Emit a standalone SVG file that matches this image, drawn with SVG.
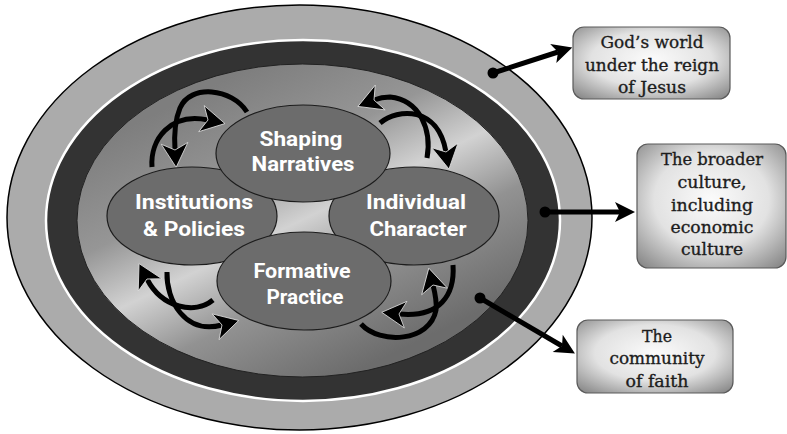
<svg xmlns="http://www.w3.org/2000/svg" width="787" height="434" viewBox="0 0 787 434">
  <defs>
    <linearGradient id="coreFill" gradientUnits="userSpaceOnUse" x1="232" y1="76" x2="372" y2="364">
      <stop offset="0" stop-color="#7e7e7e"/>
      <stop offset="0.3" stop-color="#969696"/>
      <stop offset="0.5" stop-color="#d2d2d2"/>
      <stop offset="0.7" stop-color="#929292"/>
      <stop offset="1" stop-color="#6c6c6c"/>
    </linearGradient>
    <radialGradient id="boxFill" cx="50%" cy="45%" r="70%">
      <stop offset="0" stop-color="#fbfbfb"/>
      <stop offset="0.55" stop-color="#e2e2e2"/>
      <stop offset="1" stop-color="#8a8a8a"/>
    </radialGradient>
    <marker id="bigHead" markerUnits="userSpaceOnUse" markerWidth="40" markerHeight="40" refX="0" refY="0" viewBox="-10 -15 30 30" orient="auto">
      <path d="M13,0 L-5,-10 L0,0 L-5,10 Z" fill="#000" stroke="#e0e0e0" stroke-width="0.6"/>
    </marker>
    <marker id="smallHead" markerUnits="userSpaceOnUse" markerWidth="30" markerHeight="30" refX="0" refY="0" viewBox="-8 -10 24 20" orient="auto">
      <path d="M12,0 L-4,-8 L0,0 L-4,8 Z" fill="#000"/>
    </marker>
    <style>
      .node { fill: #6c6c6c; stroke: #1c1c1c; stroke-width: 1.2; }
      .nlabel { font-family: "Liberation Sans Narrow", "Roboto", "Liberation Sans", sans-serif; font-weight: bold; font-size: 21px; fill: #ffffff; text-anchor: middle; }
      .box { fill: url(#boxFill); stroke: #5a5a5a; stroke-width: 1.2; }
      .blabel { font-family: "DejaVu Serif", "Liberation Serif", serif; font-size: 17px; fill: #1c1c1c; stroke: #1c1c1c; stroke-width: 0.35; text-anchor: middle; }
      .cycle { fill: none; stroke: #000; stroke-width: 5; marker-end: url(#bigHead); }
      .link { fill: none; stroke: #000; stroke-width: 5; marker-end: url(#smallHead); }
    </style>
  </defs>

  <!-- nested rings -->
  <g id="rings">
    <ellipse cx="299.5" cy="217.5" rx="292.5" ry="212.5" fill="#ababab" stroke="#000" stroke-width="1.5"/>
    <ellipse cx="303" cy="220.5" rx="257" ry="180.5" fill="#333333" stroke="#ffffff" stroke-width="2.5"/>
    <ellipse cx="302.5" cy="220.5" rx="225.5" ry="156.5" fill="url(#coreFill)" stroke="#222" stroke-width="1"/>
  </g>

  <!-- feedback arrows between the four elements -->
  <g id="cycle-arrows">
    <path class="cycle" d="M247,112 C232,88 190,84 180,108 C175,120 174,135 175,150"/>
    <path class="cycle" d="M152,167 C150,140 170,112 208,120"/>
    <path class="cycle" d="M427,158 C432,130 420,100 390,97 C384,97 379,98 374,100"/>
    <path class="cycle" d="M380,123 C398,108 438,106 446,152"/>
    <path class="cycle" d="M213,300 C195,315 162,308 147,279"/>
    <path class="cycle" d="M167,272 C166,300 185,335 222,325"/>
    <path class="cycle" d="M361,324 C380,345 430,342 436,310 C437,302 435,293 433,285"/>
    <path class="cycle" d="M453,265 C455,295 440,318 399,314"/>
  </g>

  <g id="node-institutions">
    <ellipse class="node" cx="192" cy="216" rx="85" ry="49"/>
    <text class="nlabel" x="194" y="209" textLength="118" lengthAdjust="spacingAndGlyphs">Institutions</text>
    <text class="nlabel" x="194" y="236" textLength="102" lengthAdjust="spacingAndGlyphs">&amp; Policies</text>
  </g>
  <g id="node-individual">
    <ellipse class="node" cx="414" cy="216" rx="85" ry="49"/>
    <text class="nlabel" x="416" y="209" textLength="100" lengthAdjust="spacingAndGlyphs">Individual</text>
    <text class="nlabel" x="418" y="236" textLength="97" lengthAdjust="spacingAndGlyphs">Character</text>
  </g>
  <g id="node-shaping">
    <ellipse class="node" cx="303" cy="153.5" rx="87" ry="48.5"/>
    <text class="nlabel" x="301" y="146" textLength="83" lengthAdjust="spacingAndGlyphs">Shaping</text>
    <text class="nlabel" x="303" y="171" textLength="103" lengthAdjust="spacingAndGlyphs">Narratives</text>
  </g>
  <g id="node-formative">
    <ellipse class="node" cx="304" cy="281" rx="87" ry="49"/>
    <text class="nlabel" x="302" y="278" textLength="97" lengthAdjust="spacingAndGlyphs">Formative</text>
    <text class="nlabel" x="305" y="304" textLength="77" lengthAdjust="spacingAndGlyphs">Practice</text>
  </g>

  <!-- callout connectors -->
  <g id="connectors">
    <circle cx="493" cy="73" r="5.5"/>
    <path class="link" d="M493,73 L558,52"/>
    <circle cx="545" cy="212" r="5.5"/>
    <path class="link" d="M545,212 L620,212"/>
    <circle cx="480" cy="298" r="5.5"/>
    <path class="link" d="M480,298 L562,346"/>
  </g>

  <g id="box-world">
    <rect class="box" x="573" y="27" width="157" height="72" rx="11"/>
    <text class="blabel" x="652" y="48" textLength="103" lengthAdjust="spacingAndGlyphs">God’s world</text>
    <text class="blabel" x="652" y="71" textLength="134" lengthAdjust="spacingAndGlyphs">under the reign</text>
    <text class="blabel" x="652" y="93" textLength="68" lengthAdjust="spacingAndGlyphs">of Jesus</text>
  </g>
  <g id="box-culture">
    <rect class="box" x="637" y="144" width="149" height="124" rx="11"/>
    <text class="blabel" x="712" y="165" textLength="102" lengthAdjust="spacingAndGlyphs">The broader</text>
    <text class="blabel" x="712" y="188" textLength="69" lengthAdjust="spacingAndGlyphs">culture,</text>
    <text class="blabel" x="712" y="211" textLength="82" lengthAdjust="spacingAndGlyphs">including</text>
    <text class="blabel" x="712" y="233" textLength="83" lengthAdjust="spacingAndGlyphs">economic</text>
    <text class="blabel" x="712" y="255" textLength="62" lengthAdjust="spacingAndGlyphs">culture</text>
  </g>
  <g id="box-community">
    <rect class="box" x="577" y="320" width="156" height="73" rx="11"/>
    <text class="blabel" x="657" y="342" textLength="30" lengthAdjust="spacingAndGlyphs">The</text>
    <text class="blabel" x="657" y="364" textLength="95" lengthAdjust="spacingAndGlyphs">community</text>
    <text class="blabel" x="657" y="387" textLength="63" lengthAdjust="spacingAndGlyphs">of faith</text>
  </g>
</svg>
